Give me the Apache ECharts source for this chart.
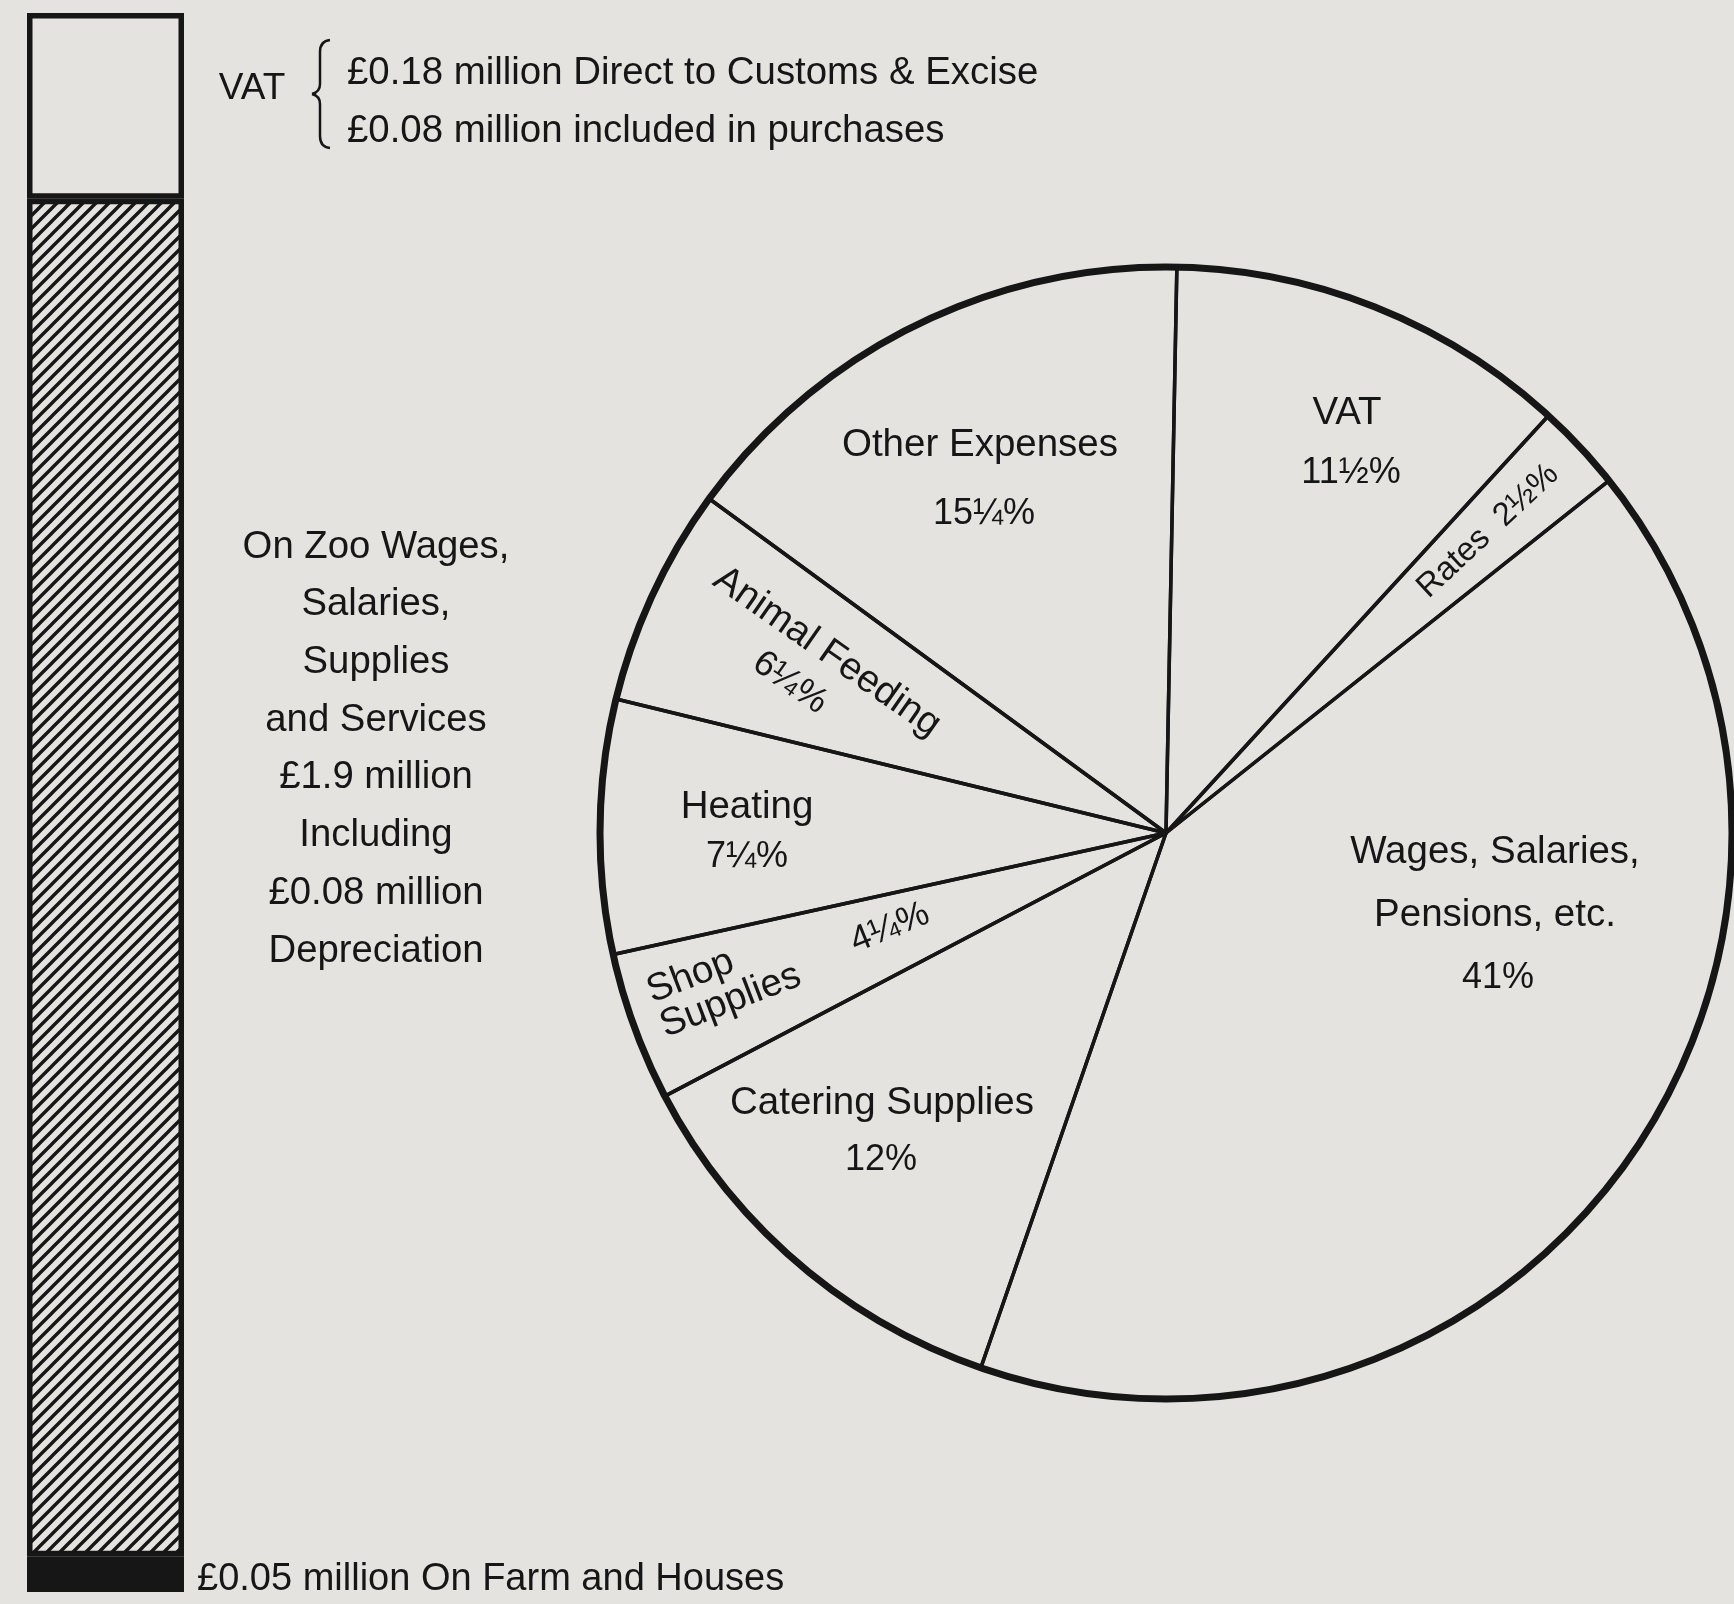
<!DOCTYPE html>
<html>
<head>
<meta charset="utf-8">
<title>Zoo expenditure</title>
<script src="https://cdn.jsdelivr.net/npm/echarts@6/dist/echarts.min.js"></script>
<style>
  html, body { margin: 0; padding: 0; background: #e5e3df; }
  #chart { width: 1734px; height: 1604px; }
</style>
</head>
<body>
<div id="chart"></div>
<script>
// ---- data ----
// left column (£ million), bottom to top
const barNames = ["Farm and Houses", "Zoo Wages, Salaries, Supplies and Services", "VAT"];
const vatSplit = [0.18, 0.08]; // direct to Customs & Excise, included in purchases
const barValues = [0.05, 1.9, vatSplit[0] + vatSplit[1]];
const depreciation = 0.08;

// pie, clockwise from 12 o'clock (percent)
const pieNames = ["VAT", "Rates", "Wages, Salaries,\nPensions, etc.", "Catering Supplies",
  "Shop\nSupplies", "Heating", "Animal Feeding", "Other Expenses"];
const pieValues = [11.5, 2.5, 41, 12, 4.25, 7.25, 6.25, 15.25];

// ---- look ----
const BG = "#e5e3df";
const INK = "#161616";
const FONT = '"Liberation Sans", Arial, sans-serif';
const PIE_C = [1166, 833];
const PIE_R = 566;
const NAME_SIZE = 38.5;
const PCT_SIZE = 36;

// label anchors, px from the pie centre (same order as pieNames)
const nameLayout = [
  { at: [181, -420] },
  { at: [322, -302], rotate: 43, withPct: true, size: 33 },
  { at: [329, 51], lineHeight: 63 },
  { at: [-284, 270] },
  { at: [-511, 177], rotate: 21, align: "left", lineHeight: 37 },
  { at: [-419, -26] },
  { at: [-339, -181], rotate: -35 },
  { at: [-186, -388] },
];
const pctLayout = [
  { at: [185, -360] },
  null, // printed with the name
  { at: [332, 145] },
  { at: [-285, 327] },
  { at: [-276, 95], rotate: 22 },
  { at: [-419, 24] },
  { at: [-376, -150], rotate: -35 },
  { at: [-182, -319] },
];

const fracs = { 0: "", 0.25: "¼", 0.5: "½", 0.75: "¾" };
function pct(v) {
  const w = Math.floor(v);
  return w + fracs[v - w] + "%";
}

// diagonal hatching for the big bar segment
function hatch() {
  const s = 13;
  const c = document.createElement("canvas");
  c.width = c.height = s;
  const g = c.getContext("2d");
  g.fillStyle = BG;
  g.fillRect(0, 0, s, s);
  g.strokeStyle = INK;
  g.lineWidth = 3.4;
  g.beginPath();
  g.moveTo(-2, s + 2); g.lineTo(s + 2, -2);
  g.moveTo(-2, 2); g.lineTo(2, -2);
  g.moveTo(s - 2, s + 2); g.lineTo(s + 2, s - 2);
  g.stroke();
  return c;
}

const barFill = [INK, { image: hatch(), repeat: "repeat" }, BG];
const barTotal = barValues.reduce((a, b) => a + b, 0);

function layoutWith(table) {
  return (params) => {
    const L = table[params.dataIndex];
    if (!L) return {};
    return {
      x: PIE_C[0] + L.at[0],
      y: PIE_C[1] + L.at[1],
      rotate: L.rotate || 0,
      align: L.align || "center",
      verticalAlign: "middle",
    };
  };
}

function txt(x, y, text, size, align, extra) {
  return {
    type: "text", x, y,
    style: Object.assign({
      text, fontSize: size, fontFamily: FONT, fill: INK,
      textAlign: align, align, textVerticalAlign: "middle", verticalAlign: "middle",
    }, extra || {}),
  };
}

// curly brace in front of the two VAT lines
const braceStyle = { stroke: INK, lineWidth: 2.5, fill: "none" };
const brace = [
  { type: "bezierCurve", shape: { x1: 330, y1: 40, cpx1: 320, cpy1: 41, x2: 320, y2: 52 }, style: braceStyle },
  { type: "line", shape: { x1: 320, y1: 52, x2: 320, y2: 84 }, style: braceStyle },
  { type: "bezierCurve", shape: { x1: 320, y1: 84, cpx1: 320, cpy1: 92, x2: 312, y2: 94 }, style: braceStyle },
  { type: "bezierCurve", shape: { x1: 312, y1: 94, cpx1: 320, cpy1: 96, x2: 320, y2: 104 }, style: braceStyle },
  { type: "line", shape: { x1: 320, y1: 104, x2: 320, y2: 136 }, style: braceStyle },
  { type: "bezierCurve", shape: { x1: 320, y1: 136, cpx1: 320, cpy1: 147, x2: 330, y2: 148 }, style: braceStyle },
];

const chart = echarts.init(document.getElementById("chart"));

chart.setOption({
  backgroundColor: BG,
  animation: false,
  textStyle: { fontFamily: FONT, color: INK },
  grid: { left: 27, top: 13, width: 157, bottom: 12 },
  xAxis: { type: "category", data: ["spend"], show: false },
  yAxis: { type: "value", min: 0, max: barTotal, show: false },
  series: [
    // left column
    ...barValues.map((v, i) => ({
      name: barNames[i],
      type: "bar",
      stack: "total",
      barWidth: "100%",
      silent: true,
      data: [v],
      itemStyle: { color: barFill[i], borderColor: INK, borderWidth: 5.5 },
    })),
    // pie slices + names
    {
      type: "pie",
      center: PIE_C,
      radius: PIE_R,
      startAngle: 88.9,
      clockwise: true,
      silent: true,
      avoidLabelOverlap: false,
      itemStyle: { color: "transparent", borderColor: INK, borderWidth: 3.5 },
      label: {
        show: true,
        position: "inside",
        color: INK,
        fontFamily: FONT,
        fontSize: NAME_SIZE,
        formatter: (p) => (nameLayout[p.dataIndex].withPct ? p.name + "  " + pct(p.value) : p.name),
      },
      labelLine: { show: false },
      labelLayout: layoutWith(nameLayout),
      data: pieNames.map((n, i) => ({
        name: n,
        value: pieValues[i],
        label: {
          fontSize: nameLayout[i].size || NAME_SIZE,
          lineHeight: nameLayout[i].lineHeight || 44,
          align: nameLayout[i].align || "center",
        },
      })),
    },
    // percentages
    {
      type: "pie",
      center: PIE_C,
      radius: PIE_R,
      startAngle: 88.9,
      clockwise: true,
      silent: true,
      avoidLabelOverlap: false,
      itemStyle: { color: "transparent", borderWidth: 0 },
      label: {
        show: true,
        position: "inside",
        color: INK,
        fontFamily: FONT,
        fontSize: PCT_SIZE,
        formatter: (p) => pct(p.value),
      },
      labelLine: { show: false },
      labelLayout: layoutWith(pctLayout),
      data: pieNames.map((n, i) => ({
        name: n,
        value: pieValues[i],
        label: { show: !!pctLayout[i] },
      })),
    },
    // heavy rim
    {
      type: "pie",
      center: PIE_C,
      radius: PIE_R,
      silent: true,
      label: { show: false },
      labelLine: { show: false },
      itemStyle: { color: "transparent", borderColor: INK, borderWidth: 7 },
      data: [{ name: "rim", value: 1 }],
    },
  ],
  graphic: [
    txt(252, 89, "VAT", 37, "center"),
    ...brace,
    txt(347, 73, "£" + vatSplit[0] + " million Direct to Customs & Excise", 38.4, "left"),
    txt(347, 131, "£" + vatSplit[1].toFixed(2) + " million included in purchases", 38.4, "left"),
    txt(376, 749,
      "On Zoo Wages,\nSalaries,\nSupplies\nand Services\n£" + barValues[1] + " million\nIncluding\n£" +
        depreciation.toFixed(2) + " million\nDepreciation",
      38.3, "center", { lineHeight: 57.7 }),
    txt(197, 1580, "£" + barValues[0].toFixed(2) + " million On Farm and Houses", 38, "left"),
  ],
});

window.addEventListener("resize", () => chart.resize());
</script>
</body>
</html>
